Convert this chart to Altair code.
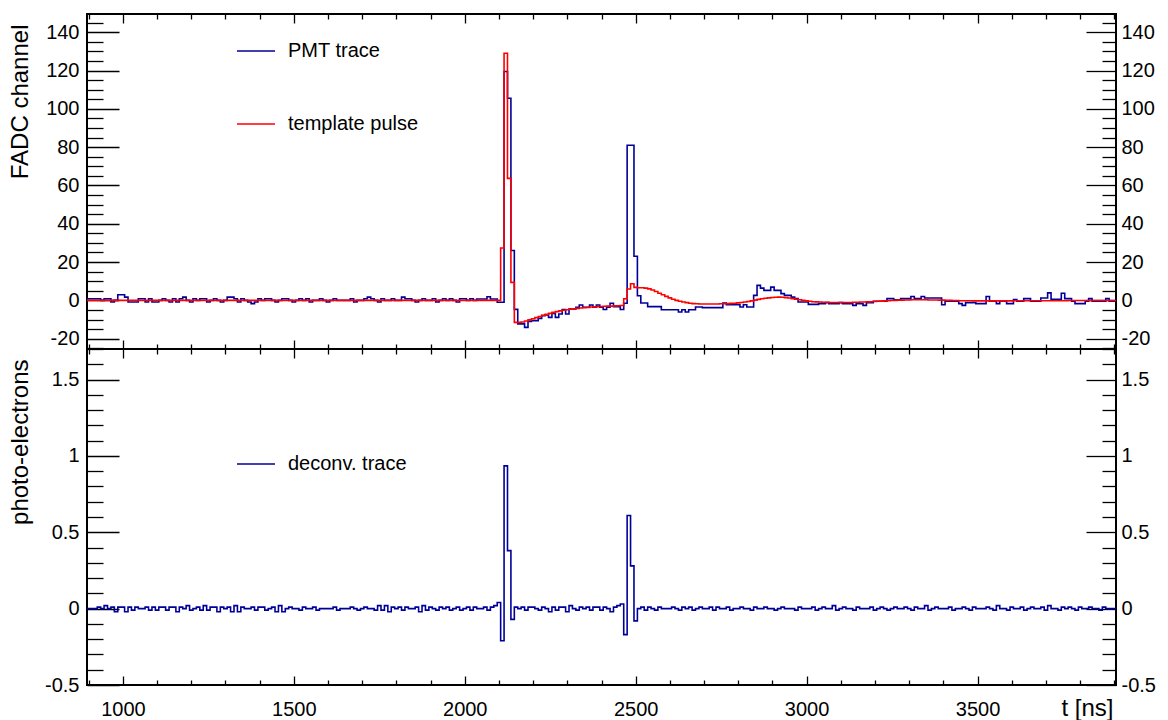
import altair as alt
import pandas as pd

# ---------------- data ----------------
t_start = 895.0      # left edge of first bin [ns]
bin_width = 10.0     # bin width [ns]

# PMT trace (FADC channel), bins 895 ... 2105
pmt_pre = [
    0.8, 0.8, 0.8, 0.8, 0.0, 0.8, 0.8, -0.9, 0.0, 2.9,
    2.9, 1.7, -0.9, -0.9, -0.9, 0.8, 0.8, -0.9, 0.8, -0.9,
    -0.9, 0.0, 0.8, 0.0, -0.9, 0.8, -0.9, 0.8, 1.7, 0.0,
    -0.9, 0.8, 0.0, 0.8, 0.8, -0.9, 0.0, 0.8, 0.0, -0.9,
    0.0, 1.7, 1.7, 0.8, -0.9, 0.8, 0.0, -0.9, -1.7, -0.9,
    0.8, 0.0, 0.8, 0.8, 0.0, -0.9, 0.0, 0.8, 0.8, 0.0,
    -0.9, 0.0, 0.8, 0.0, 0.8, -0.9, 0.0, 0.0, 0.8, 0.0,
    -0.9, 0.0, 0.8, 0.0, 0.0, 0.0, 0.0, 0.8, -0.9, 0.0,
    0.0, 0.8, 1.7, 0.8, 0.0, -0.9, 0.8, 0.0, 0.0, 0.8,
    0.0, 0.0, 1.7, 0.8, 0.8, 0.0, -0.9, 0.0, 0.8, 0.0,
    0.0, 0.8, -0.9, 0.0, 0.8, 0.0, 0.8, 0.0, -0.9, 0.8,
    0.8, 0.0, 0.8, 0.0, 0.7, 0.7, 0.7, 1.9, 0.7, 0.7,
    -1.0,
]
# bins 2105 ... 3025
pmt_pulse = [
    -1.0, 119.5, 105.5, 26.0, -4.7, -12.3, -12.3, -14.1, -11.0, -10.6,
    -10.6, -9.4, -8.0, -7.6, -8.9, -6.8, -8.9, -7.1, -4.8, -7.1,
    -4.5, -4.5, -3.6, -2.4, -3.6, -3.6, -2.4, -3.6, -2.4, -3.6,
    -4.8, -3.6, -1.5, -3.3, -3.3, -4.8, -1.5, 81.0, 81.0, 23.0,
    2.4, -1.4, -1.4, -3.3, -3.3, -3.3, -3.3, -4.9, -4.9, -4.9,
    -4.9, -4.9, -6.1, -4.9, -6.1, -4.9, -4.9, -3.5, -3.5, -3.8,
    -3.8, -3.8, -3.8, -3.8, -3.8, -1.4, -2.3, -2.3, -2.3, -2.3,
    -3.5, -2.3, -3.5, -3.5, 2.6, 7.8, 6.4, 5.2, 5.2, 6.9,
    5.2, 5.2, 3.5, 2.6, 2.6, 1.7, 0.9, -0.9, -0.9, -0.9,
    -2.1, -2.1, -2.1,
]
# bins 3035 ... 3895
pmt_tail = [
    -1.7, -1.7, -1.2, -1.7, -1.7, -1.7, -1.2, -1.7, -1.7, -1.7,
    -2.6, -1.7, -1.7, -2.6, -1.2, -1.2, -0.5, -0.5, -0.5, -0.5,
    0.9, 0.9, 0.3, 0.3, 0.9, 0.9, 0.9, 2.0, 0.9, 0.9,
    2.0, 1.2, 1.2, 1.2, 1.2, 1.2, -2.3, -0.5, -0.5, -0.5,
    -0.5, -1.7, -2.6, -1.2, -1.2, -1.2, -1.7, -1.7, -1.7, 2.0,
    -0.5, -0.5, -1.7, -0.5, -0.5, -1.7, -1.7, 0.4, -0.5, -0.5,
    0.9, 0.9, -0.5, -0.5, -0.5, 1.2, 1.2, 3.9, 0.5, 0.5,
    0.5, 3.7, 0.9, 0.9, -0.5, -1.7, -1.7, -1.7, -0.5, 0.9,
    -0.5, -0.5, -0.5, -0.5, 0.9, -0.5, -0.5,
]

# template pulse (FADC channel)
template_pre = [
    0.0, 0.0, 0.0, 0.0, 0.0, 0.0, 0.0, 0.0, 0.0, 0.0,
    0.0, 0.0, 0.0, 0.0, 0.0, 0.0, 0.0, 0.0, 0.0, 0.0,
    0.0, 0.0, 0.0, 0.0, 0.0, 0.0, 0.0, 0.0, 0.0, 0.0,
    0.0, 0.0, 0.0, 0.0, 0.0, 0.0, 0.0, 0.0, 0.0, 0.0,
    0.0, 0.0, 0.0, 0.0, 0.0, 0.0, 0.0, 0.0, 0.0, 0.0,
    0.0, 0.0, 0.0, 0.0, 0.0, 0.0, 0.0, 0.0, 0.0, 0.0,
    0.0, 0.0, 0.0, 0.0, 0.0, 0.0, 0.0, 0.0, 0.0, 0.0,
    0.0, 0.0, 0.0, 0.0, 0.0, 0.0, 0.0, 0.0, 0.0, 0.0,
    0.0, 0.0, 0.0, 0.0, 0.0, 0.0, 0.0, 0.0, 0.0, 0.0,
    0.0, 0.0, 0.0, 0.0, 0.0, 0.0, 0.0, 0.0, 0.0, 0.0,
    0.0, 0.0, 0.0, 0.0, 0.0, 0.0, 0.0, 0.0, 0.0, 0.0,
    0.0, 0.0, 0.0, 0.0, 0.0, 0.0, 0.0, 0.0, 0.0, 0.0,
    0.0,
]
template_pulse_vals = [
    27.3, 129.0, 63.7, 9.4, -11.5, -11.5, -11.3, -10.8, -10.2, -9.6,
    -9.0, -8.4, -7.8, -7.3, -6.8, -6.3, -5.9, -5.5, -5.2, -4.9,
    -4.6, -4.4, -4.2, -4.0, -3.8, -3.7, -3.5, -3.4, -3.3, -3.2,
    -3.1, -3.0, -3.0, -2.9, -2.8, -2.7, 0.8, 5.9, 8.7, 6.8,
    6.6, 6.6, 6.4, 6.0, 5.4, 4.6, 3.7, 2.9, 2.1, 1.3,
    0.6, 0.0, -0.5, -0.9, -1.2, -1.5, -1.7, -1.8, -1.9, -1.9,
    -1.9, -1.9, -1.9, -1.9, -1.8, -1.8, -1.7, -1.6, -1.5, -1.3,
    -1.1, -0.9, -0.6, -0.3, 0.1, 0.5, 0.8, 1.1, 1.3, 1.5,
    1.6, 1.7, 1.6, 1.4, 1.2, 0.9, 0.6, 0.3, 0.0, -0.3,
    -0.5, -0.7, -0.8,
]
template_tail = [
    -0.9, -1.0, -1.0, -1.1, -1.1, -1.1, -1.1, -1.1, -1.1, -1.1,
    -1.0, -1.0, -0.9, -0.9, -0.8, -0.7, -0.6, -0.5, -0.4, -0.3,
    -0.2, -0.1, 0.0, 0.1, 0.1, 0.2, 0.2, 0.3, 0.3, 0.3,
    0.3, 0.3, 0.2, 0.2, 0.2, 0.1, 0.1, 0.0, 0.0, -0.1,
    -0.1, -0.2, -0.2, -0.2, -0.2, -0.3, -0.3, -0.3, -0.3, -0.3,
    -0.3, -0.3, -0.3, -0.3, -0.3, -0.3, -0.3, -0.2, -0.2, -0.2,
    -0.2, -0.2, -0.2, -0.2, -0.2, -0.2, -0.2, -0.2, -0.2, -0.2,
    -0.2, -0.2, -0.2, -0.1, -0.1, -0.1, -0.1, -0.1, -0.1, -0.1,
    -0.1, -0.1, -0.1, -0.1, -0.1, -0.1, -0.1,
]

# deconvolved trace (photo-electrons)
deconv_pre = [
    0.00, 0.00, 0.00, 0.01, 0.00, 0.02, 0.00, 0.01, -0.02, 0.01,
    0.01, -0.02, 0.01, -0.01, 0.01, 0.00, 0.00, 0.01, -0.01, 0.01,
    -0.01, 0.01, 0.01, -0.01, 0.01, 0.01, -0.02, 0.01, 0.00, 0.02,
    -0.01, 0.00, 0.01, -0.01, 0.02, -0.01, 0.01, 0.01, -0.02, 0.01,
    0.00, 0.01, -0.02, 0.02, -0.02, 0.01, 0.00, 0.00, 0.01, -0.01,
    0.01, 0.01, -0.01, 0.00, 0.01, -0.02, 0.02, -0.02, 0.00, 0.01,
    0.00, 0.00, -0.01, 0.01, 0.00, 0.00, 0.01, -0.01, 0.00, 0.00,
    0.00, 0.00, 0.01, -0.01, 0.00, 0.00, 0.00, 0.01, 0.00, -0.01,
    0.00, 0.01, 0.00, 0.00, -0.01, 0.02, -0.01, 0.02, -0.02, 0.01,
    0.00, 0.01, -0.01, 0.01, 0.00, 0.00, 0.01, -0.02, 0.02, -0.01,
    0.01, 0.00, -0.01, 0.01, 0.00, 0.01, -0.01, 0.00, 0.01, -0.01,
    0.00, 0.01, -0.01, 0.01, 0.00, 0.00, 0.01, -0.01, 0.01, 0.02,
]
deconv_pulse1 = [0.04, -0.21, 0.935, 0.38, -0.07]
deconv_mid = [
    0.01, 0.00, 0.01, -0.01, 0.01, 0.01, 0.00, -0.01, 0.01, 0.00,
    -0.02, 0.01, -0.01, 0.01, 0.01, -0.02, 0.02, 0.00, -0.01, 0.01,
    0.00, 0.01, -0.01, 0.01, 0.01, -0.01, 0.01, 0.00, -0.02, 0.01,
    0.02,
]
deconv_pulse2 = [0.03, -0.17, 0.61, 0.28, -0.08]
deconv_post = [
    0.00, 0.01, -0.01, 0.01, 0.00, -0.01, 0.01, 0.00, 0.00, 0.00,
    0.01, 0.00, -0.01, 0.01, 0.00, 0.01, -0.01, 0.00, 0.01, 0.00,
    0.00, 0.01, -0.01, 0.01, 0.00, 0.00, 0.01, -0.01, 0.00, 0.00,
    0.01, 0.00, 0.00, -0.01, 0.01, 0.00, 0.00, 0.01, 0.00, 0.00,
    -0.01, 0.00, 0.01, 0.00, 0.00, 0.00, -0.01, 0.01, 0.00, 0.00,
    0.00, 0.01, -0.01, 0.00, 0.01, 0.00, 0.00, 0.02, -0.01, 0.00,
    0.01, 0.00, 0.00, -0.01, 0.01, 0.00, 0.00, 0.00, 0.01, -0.01,
    0.00, 0.01, 0.00, -0.01, 0.00, 0.01, 0.00, 0.00, 0.01, 0.00,
    -0.01, 0.01, 0.00, 0.00, 0.02, -0.01, 0.00, 0.01, 0.00, 0.00,
    0.00, 0.01, -0.01, 0.00, 0.00, 0.01, 0.00, -0.01, 0.01, 0.00,
    0.00, 0.00, 0.01, 0.00, -0.01, 0.02, 0.00, 0.00, -0.01, 0.01,
    0.00, 0.00, 0.01, -0.01, 0.00, 0.01, 0.00, 0.00, 0.01, -0.01,
    0.02, 0.00, 0.00, -0.01, 0.01, 0.00, 0.01, 0.00, -0.01, 0.01,
    0.00, 0.00, 0.01, 0.00, 0.00, -0.01, 0.01, 0.00, 0.00, 0.00,
]

pmt_trace = pmt_pre + pmt_pulse + pmt_tail
template_pulse = template_pre + template_pulse_vals + template_tail
deconv_trace = deconv_pre + deconv_pulse1 + deconv_mid + deconv_pulse2 + deconv_post
assert len(pmt_trace) == len(template_pulse) == len(deconv_trace) == 301, (
    len(pmt_trace), len(template_pulse), len(deconv_trace))

series_top = ["PMT trace", "template pulse"]
colors_top = ["#000099", "#ff0000"]
series_bot = ["deconv. trace"]
colors_bot = ["#000099"]

x_domain = [895, 3905]
x_label_values = [1000, 1500, 2000, 2500, 3000, 3500]
x_tick_values = [900 + 100 * k for k in range(31)]
top_domain = [-25.4, 149.5]
top_label_values = [-20, 0, 20, 40, 60, 80, 100, 120, 140]
top_tick_values = [-25 + 5 * k for k in range(35)]
bot_domain = [-0.5, 1.7]
bot_label_values = [-0.5, 0, 0.5, 1, 1.5]
bot_tick_values = [round(-0.5 + 0.1 * k, 2) for k in range(23)]

# ---------------- build step-histogram tables ----------------
n_bins = len(pmt_trace)
edges = [t_start + bin_width * i for i in range(n_bins + 1)]


def step_rows(values, name):
    rows = [{"t": edges[i], "v": values[i], "series": name} for i in range(n_bins)]
    rows.append({"t": edges[n_bins], "v": values[-1], "series": name})
    return rows


top_df = pd.DataFrame(step_rows(pmt_trace, series_top[0]) + step_rows(template_pulse, series_top[1]))
bot_df = pd.DataFrame(step_rows(deconv_trace, series_bot[0]))

# ---------------- styling ----------------
FONT = "Liberation Sans"
W = 1029
H_TOP = 335
H_BOT = 336
LABEL_SIZE = 20
TITLE_SIZE = 24

x_scale = alt.Scale(domain=x_domain, nice=False, zero=False)


def tick_axis(orient, offset, values, test, major_len, minor_len):
    return alt.Axis(
        orient=orient, offset=offset, values=values, labels=False, domain=False,
        grid=False, title=None, ticks=True, tickColor="black", tickWidth=1.3,
        tickSize={"condition": {"test": test, "value": major_len}, "value": minor_len},
    )


def label_axis(orient, values, padding, title=None, **kw):
    args = dict(
        orient=orient, values=values, ticks=False, domain=False, grid=False,
        labelPadding=padding, labelFont=FONT, labelFontSize=LABEL_SIZE,
        labelColor="black", labelFlush=False, labelOverlap=False,
        labelExpr="toString(datum.value)",
    )
    if title is not None:
        args.update(title=title, titleFont=FONT, titleFontSize=TITLE_SIZE,
                    titleFontWeight="normal", titleColor="black")
    else:
        args.update(title=None)
    args.update(kw)
    return alt.Axis(**args)


def panel(df, names, colors, y_domain, y_labels, y_ticks, y_major_test,
          y_title, height, legend_y, with_x_labels):
    y_scale = alt.Scale(domain=y_domain, nice=False, zero=False)
    x_major_test = "datum.value % 500 === 0"

    visible = alt.Chart(df).mark_line(
        interpolate="step-after", strokeWidth=1.6, clip=True
    ).encode(
        x=alt.X("t:Q", scale=x_scale,
                axis=tick_axis("bottom", -height, x_tick_values, x_major_test, 9, 5)),
        y=alt.Y("v:Q", scale=y_scale,
                axis=label_axis("left", y_labels, 8, title=y_title,
                                titleX=-67, titleY=10, titleAngle=-90,
                                titleAlign="right", titleBaseline="middle")),
        color=alt.Color(
            "series:N",
            scale=alt.Scale(domain=names, range=colors),
            legend=alt.Legend(
                orient="none", legendX=149, legendY=legend_y, title=None,
                symbolType="stroke", symbolSize=1444, symbolStrokeWidth=1.6,
                labelFont=FONT, labelFontSize=LABEL_SIZE, labelColor="black",
                labelOffset=12, rowPadding=43, padding=0,
            ),
        ),
    )

    ghost = alt.Chart(df).mark_line(strokeOpacity=0, clip=True)

    layer_b = ghost.encode(
        x=alt.X("t:Q", scale=x_scale,
                axis=tick_axis("top", -height, x_tick_values, x_major_test, 9, 5)),
        y=alt.Y("v:Q", scale=y_scale,
                axis=tick_axis("right", -W, y_ticks, y_major_test, 32, 16)),
    )
    if with_x_labels:
        x_c = alt.X("t:Q", scale=x_scale,
                    axis=label_axis("bottom", x_label_values, 14, title="t [ns]",
                                    titleX=W - 3, titleY=30, titleAlign="right",
                                    titleBaseline="alphabetic", titleAngle=0))
    else:
        x_c = alt.X("t:Q", scale=x_scale, axis=None)
    layer_c = ghost.encode(
        x=x_c,
        y=alt.Y("v:Q", scale=y_scale, axis=label_axis("right", y_labels, 5)),
    )
    layer_d = ghost.encode(
        x=alt.X("t:Q", scale=x_scale, axis=None),
        y=alt.Y("v:Q", scale=y_scale,
                axis=tick_axis("left", -W, y_ticks, y_major_test, 30, 14)),
    )
    return alt.layer(visible, layer_b, layer_c, layer_d).resolve_scale(
        x="shared", y="shared"
    ).resolve_axis(x="independent", y="independent").properties(width=W, height=height)


top = panel(top_df, series_top, colors_top, top_domain, top_label_values, top_tick_values,
            "datum.value % 20 === 0", "FADC channel", H_TOP, 17, False)
bottom = panel(bot_df, series_bot, colors_bot, bot_domain, bot_label_values, bot_tick_values,
               "abs(datum.value * 2 - round(datum.value * 2)) < 0.001",
               "photo-electrons", H_BOT, 95, True)

chart = alt.vconcat(top, bottom, spacing=0, bounds="flush").resolve_scale(
    color="independent"
).properties(
    padding={"left": 6, "top": 12, "right": 10, "bottom": 5},
    background="white",
).configure_view(stroke="black", strokeWidth=2)

chart.save("out.html", embed_options={"renderer": "svg", "actions": False})
